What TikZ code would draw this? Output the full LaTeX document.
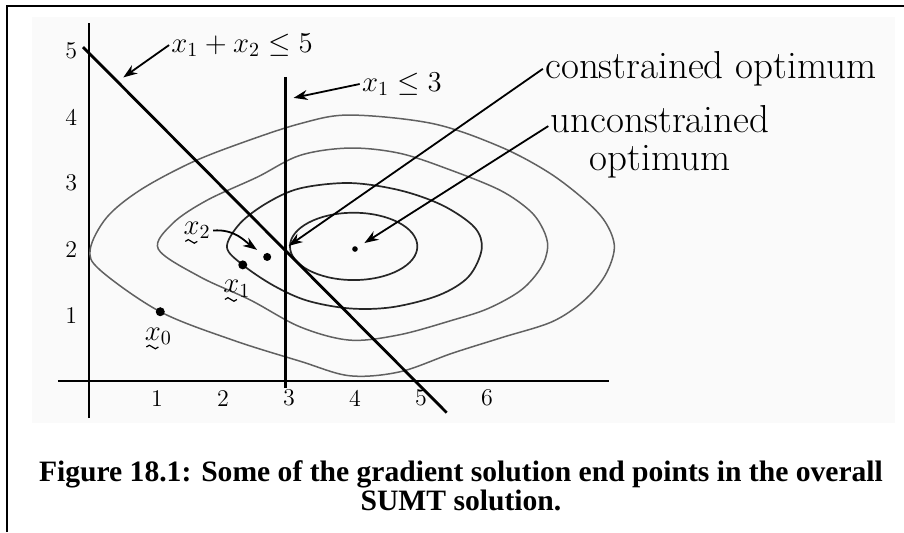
\documentclass[tikz,border=0pt]{standalone}
\usepackage{amsmath}
\usepackage{fontspec}
\newfontfamily\capfont{Liberation Serif}
\usetikzlibrary{arrows.meta,positioning}

\begin{document}
\begin{tikzpicture}[
    x=33pt, y=33pt,
    frame/.style={line width=1.1pt},
    axis/.style={line width=1pt},
    bound/.style={line width=1.4pt},
    level/.style={line width=0.85pt, black!85},
    outerlevel/.style={line width=0.75pt, black!62},
    tick/.style={font=\fontsize{12}{14}\selectfont, inner sep=0pt},
    vec/.style={font=\fontsize{14.4}{16}\selectfont, inner sep=1pt},
    squig/.style={line width=0.6pt},
    note/.style={font=\fontsize{19.5}{19}\selectfont, align=center, inner sep=1pt},
    rule/.style={font=\fontsize{14.4}{16}\selectfont, inner sep=1pt},
    dot/.style={circle, fill, inner sep=0pt},
    pointer/.style={line width=0.9pt, -{Stealth[length=7pt, width=5pt]}}
  ]

% page frame, proportions of the original figure
    \useasboundingbox (-1.348,-2.288) rectangle (12.348,5.773);
    \fill[gray!4] (-0.864,-0.636) rectangle (12.212,5.515);
    \draw[frame] (-1.242,-2.288) -- (-1.242,5.682) -- (12.348,5.682);

% --- Axes and tick labels ---
    \draw[axis] (0,-0.561) -- (0,5.424);
    \draw[axis] (-0.47,0) -- (7.879,0);
    \foreach \k in {1,...,5} {
      \node[tick] (ylab\k) at (-0.27,\k) {\k};
    }
    \foreach \k in {1,...,6} {
      \node[tick] (xlab\k) at (\k+0.03,-0.26) {\k};
    }

% --- Contours of the objective, outermost first ---
    \draw[outerlevel] plot[smooth cycle, tension=0.55] coordinates {
      (0.02,2.0) (0.17,1.68) (1.08,1.05) (2.18,0.62) (3.2,0.3) (3.95,0.08)
      (4.71,0.14) (5.5,0.42) (6.26,0.66) (7.02,0.9) (7.5,1.22) (7.82,1.6)
      (7.96,2.02) (7.84,2.38) (7.56,2.7) (6.98,3.15) (6.23,3.55) (5.21,3.9)
      (3.95,4.03) (3.2,3.9) (2.29,3.6) (1.53,3.3) (0.77,2.89) (0.27,2.48)};
    \draw[outerlevel] plot[smooth cycle, tension=0.55] coordinates {
      (1.05,2.0) (1.68,1.58) (2.44,1.23) (3.2,0.82) (3.95,0.62) (4.7,0.7)
      (5.5,0.92) (6.05,1.1) (6.55,1.38) (6.85,1.72) (6.95,2.03) (6.88,2.3)
      (6.68,2.58) (6.23,2.89) (5.47,3.2) (4.71,3.45) (3.95,3.53) (3.2,3.42)
      (2.55,3.09) (1.79,2.74) (1.27,2.39)};
    \draw[level] plot[smooth cycle, tension=0.55] coordinates {
      (2.09,2.03) (2.33,1.76) (2.79,1.45) (3.3,1.22) (3.95,1.1) (4.6,1.12)
      (5.3,1.3) (5.75,1.58) (5.95,2.0) (5.84,2.33) (5.36,2.66) (4.71,2.89)
      (3.95,3.0) (3.2,2.92) (2.7,2.7) (2.29,2.39)};
    \draw[level] (4.01,2.04) ellipse[x radius=0.965, y radius=0.51];

% --- Constraint lines ---
    \draw[bound] (-0.09,5.06) -- (5.42,-0.48);
    \draw[bound] (2.98,4.61) -- (2.98,-0.11);

% --- Points ---
    \node[dot, minimum size=4.5pt] (p0) at (1.08,1.05) {};
    \node[dot, minimum size=4.5pt] (p1) at (2.33,1.76) {};
    \node[dot, minimum size=4pt] (p2) at (2.7,1.88) {};
    \node[dot, minimum size=2.8pt] (uopt) at (4.03,2.0) {};
    \coordinate (copt) at (3.0,2.03);
    \coordinate (tipA) at (0.52,4.6);
    \coordinate (tipB) at (3.1,4.29);

% iterates, with the hand-drawn tilde under each x
    \node[vec] (lab0) at (1.05,0.68) {$x_0$};
    \node[vec] (lab1) at (2.24,1.4) {$x_1$};
    \node[vec] (lab2) at (1.64,2.28) {$x_2$};
    \foreach \n in {lab0,lab1,lab2} {
      \draw[squig] ([xshift=2pt, yshift=-3.4pt]\n.base west)
        sin ++(1.5pt,0.9pt) cos ++(1.5pt,-0.9pt) sin ++(1.5pt,-0.9pt) cos ++(1.5pt,0.9pt);
    }

% --- Labels and pointers ---
    \node[rule] (lblA) at (2.32,5.09) {$x_1 + x_2 \leq 5$};
    \node[rule] (lblB) at (4.74,4.5) {$x_1 \leq 3$};
    \node[note] (lblC) at (9.42,4.73) {constrained optimum};
    \node[note] (lblD) at (8.65,3.62) {unconstrained\\optimum};

    \draw[pointer] (lblA.west) -- (tipA);
    \draw[pointer] (lblB.west) -- (tipB);
    \draw[pointer, shorten >=1pt] (lblC.west) -- (copt);
    \draw[pointer, shorten >=4pt] ([yshift=8pt]lblD.west) -- (uopt);
    \draw[pointer, shorten >=4pt] (lab2.east) to[out=5, in=145] (p2);

% --- Caption ---
    \node[align=center, font=\capfont\bfseries\fontsize{14.8}{13.5}\selectfont] (cap) at (5.636,-1.58)
      {Figure 18.1: Some of the gradient solution end points in the overall\\SUMT solution.};

\end{tikzpicture}
\end{document}
